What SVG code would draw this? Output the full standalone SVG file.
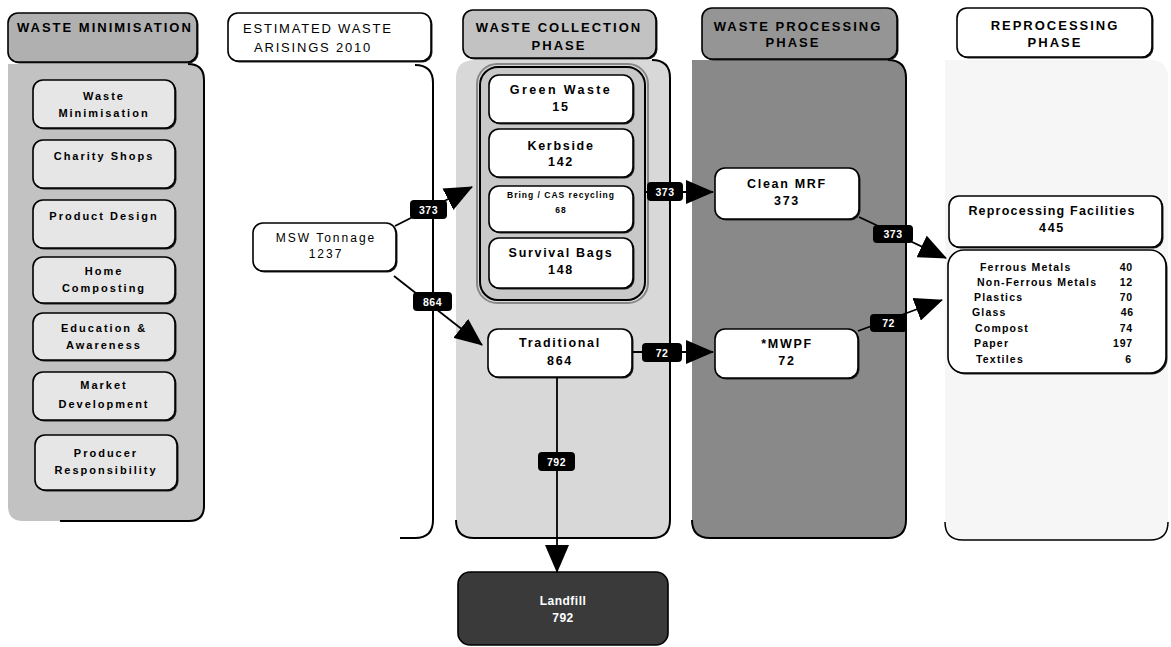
<svg xmlns="http://www.w3.org/2000/svg" width="1171" height="647" viewBox="0 0 1171 647">
<style>
text{font-family:"Liberation Sans",Arial,sans-serif;fill:#000}
.hd{font-size:13px;font-weight:bold;letter-spacing:2px}
.hdr{font-size:13px;letter-spacing:1.8px}
.sb{font-size:11px;font-weight:bold;letter-spacing:2px;text-anchor:middle}
.cb{font-size:12.5px;font-weight:bold;letter-spacing:1.7px;text-anchor:middle}
.rg{font-size:12px;letter-spacing:2px;text-anchor:middle}
.sm{font-size:8.5px;font-weight:bold;letter-spacing:1px;text-anchor:middle}
.mt{font-size:10.5px;font-weight:bold;letter-spacing:1.2px}
.mv{font-size:10.5px;font-weight:bold;letter-spacing:0.8px;text-anchor:end}
.lb{font-size:10.5px;font-weight:bold;letter-spacing:0.5px;text-anchor:middle;fill:#fff}
.box{stroke:#000;stroke-width:1.6}
.sh{fill:#222}
.edge{fill:none;stroke:#000;stroke-width:2}
.conn{fill:none;stroke:#000;stroke-width:1.8}
.badge{fill:#000}
</style>
<defs>
<marker id="ah" markerUnits="userSpaceOnUse" markerWidth="28" markerHeight="24" viewBox="0 0 28 24" refX="27" refY="12" orient="auto">
<path d="M0,0 L28,12 L0,24 Z" fill="#000"/>
</marker>
</defs>
<rect width="1171" height="647" fill="#fff"/>

<!-- Column 1: Waste minimisation -->
<g id="col-minimisation">
<path d="M8,64 L188,64 Q204,64 204,80 L204,506 Q204,521 189,521 L23,521 Q8,521 8,506 Z" fill="#c2c2c2"/>
<path class="edge" d="M188,64 Q204,64 204,80 L204,506 Q204,521 189,521 L60,521"/>
<rect x="9.5" y="14.5" width="189" height="49" rx="10" class="sh"/>
<rect x="8" y="13" width="189" height="49" rx="10" fill="#b0b0b0" class="box"/>
<text class="hd" x="17" y="32">WASTE MINIMISATION</text>
</g>
<g id="n-waste-min"><rect x="34.5" y="81.5" width="142" height="48" rx="10" class="sh"/><rect x="33" y="80" width="142" height="48" rx="10" fill="#e6e6e6" class="box"/><text class="sb" x="104" y="100">Waste</text><text class="sb" x="104" y="117">Minimisation</text></g>
<g id="n-charity"><rect x="34.5" y="141.5" width="142" height="48" rx="10" class="sh"/><rect x="33" y="140" width="142" height="48" rx="10" fill="#e6e6e6" class="box"/><text class="sb" x="104" y="160">Charity Shops</text></g>
<g id="n-product"><rect x="34.5" y="201.5" width="142" height="48" rx="10" class="sh"/><rect x="33" y="200" width="142" height="48" rx="10" fill="#e6e6e6" class="box"/><text class="sb" x="104" y="220">Product Design</text></g>
<g id="n-home"><rect x="34.5" y="258.5" width="142" height="46" rx="10" class="sh"/><rect x="33" y="257" width="142" height="46" rx="10" fill="#e6e6e6" class="box"/><text class="sb" x="104" y="275">Home</text><text class="sb" x="104" y="292">Composting</text></g>
<g id="n-education"><rect x="34.5" y="314.5" width="142" height="47" rx="10" class="sh"/><rect x="33" y="313" width="142" height="47" rx="10" fill="#e6e6e6" class="box"/><text class="sb" x="104" y="332">Education &amp;</text><text class="sb" x="104" y="349">Awareness</text></g>
<g id="n-market"><rect x="34.5" y="373.5" width="142" height="48" rx="10" class="sh"/><rect x="33" y="372" width="142" height="48" rx="10" fill="#e6e6e6" class="box"/><text class="sb" x="104" y="389">Market</text><text class="sb" x="104" y="408">Development</text></g>
<g id="n-producer"><rect x="36.5" y="436.5" width="142" height="55" rx="10" class="sh"/><rect x="35" y="435" width="142" height="55" rx="10" fill="#e6e6e6" class="box"/><text class="sb" x="106" y="457">Producer</text><text class="sb" x="106" y="474">Responsibility</text></g>

<!-- Column 2: Estimated waste arisings -->
<g id="col-estimated">
<path class="edge" d="M415,65 Q433,65 433,83 L433,520 Q433,538 415,538 L400,538"/>
<rect x="229.5" y="14.5" width="203" height="48" rx="10" class="sh"/>
<rect x="228" y="13" width="203" height="48" rx="10" fill="#fff" class="box"/>
<text class="hdr" x="243" y="33">ESTIMATED WASTE</text>
<text class="hdr" x="254" y="52">ARISINGS 2010</text>
</g>
<g id="n-msw"><rect x="254.5" y="224.5" width="143" height="48" rx="10" class="sh"/><rect x="253" y="223" width="143" height="48" rx="10" fill="#fff" class="box"/><text class="rg" x="326" y="242">MSW Tonnage</text><text class="rg" x="326" y="258">1237</text></g>

<!-- Column 3: Waste collection phase -->
<g id="col-collection">
<path d="M475,60 L652,60 Q670,60 670,78 L670,520 Q670,538 652,538 L474,538 Q456,538 456,520 L456,78 Q456,60 475,60 Z" fill="#d8d8d8"/>
<path class="edge" d="M652,60 Q670,60 670,78 L670,520 Q670,538 652,538 L474,538 Q456,538 456,520"/>
<rect x="464.5" y="11.5" width="193" height="48" rx="10" class="sh"/>
<rect x="463" y="10" width="193" height="48" rx="10" fill="#c2c2c2" class="box"/>
<text class="hd" x="559" y="32" text-anchor="middle">WASTE COLLECTION</text>
<text class="hd" x="559" y="50" text-anchor="middle">PHASE</text>
<rect x="477" y="64" width="171" height="239" rx="20" fill="none" stroke="#888" stroke-width="2"/>
<rect x="480" y="67" width="165" height="233" rx="18" fill="#c8c8c8" stroke="#000" stroke-width="2"/>
</g>
<g id="n-green"><rect x="490.5" y="76.5" width="144" height="48" rx="10" class="sh"/><rect x="489" y="75" width="144" height="48" rx="10" fill="#fff" class="box"/><text class="cb" x="561" y="94" style="letter-spacing:2.4px">Green Waste</text><text class="cb" x="561" y="111">15</text></g>
<g id="n-kerbside"><rect x="490.5" y="130.5" width="144" height="48" rx="10" class="sh"/><rect x="489" y="129" width="144" height="48" rx="10" fill="#fff" class="box"/><text class="cb" x="561" y="150">Kerbside</text><text class="cb" x="561" y="166">142</text></g>
<g id="n-bring"><rect x="490.5" y="187.5" width="144" height="46" rx="10" class="sh"/><rect x="489" y="186" width="144" height="46" rx="10" fill="#fff" class="box"/><text class="sm" x="561" y="198">Bring / CAS recycling</text><text class="sm" x="561" y="213">68</text></g>
<g id="n-survival"><rect x="490.5" y="239.5" width="144" height="50" rx="10" class="sh"/><rect x="489" y="238" width="144" height="50" rx="10" fill="#fff" class="box"/><text class="cb" x="561" y="257">Survival Bags</text><text class="cb" x="561" y="274">148</text></g>
<g id="n-traditional"><rect x="489.5" y="330.5" width="144" height="48" rx="10" class="sh"/><rect x="488" y="329" width="144" height="48" rx="10" fill="#fff" class="box"/><text class="cb" x="560" y="347">Traditional</text><text class="cb" x="560" y="365">864</text></g>

<!-- Column 4: Waste processing phase -->
<g id="col-processing">
<path d="M692,60 L888,60 Q906,60 906,78 L906,520 Q906,538 888,538 L710,538 Q692,538 692,520 Z" fill="#898989"/>
<path class="edge" d="M888,60 Q906,60 906,78 L906,520 Q906,538 888,538 L710,538 Q692,538 692,520"/>
<rect x="703.5" y="9.5" width="195" height="51" rx="10" class="sh"/>
<rect x="702" y="8" width="195" height="51" rx="10" fill="#959595" class="box"/>
<text class="hd" x="798" y="31" text-anchor="middle">WASTE PROCESSING</text>
<text class="hd" x="793" y="47" text-anchor="middle">PHASE</text>
</g>
<g id="n-cleanmrf"><rect x="716.5" y="169.5" width="144" height="51" rx="10" class="sh"/><rect x="715" y="168" width="144" height="51" rx="10" fill="#fff" class="box"/><text class="cb" x="787" y="188">Clean MRF</text><text class="cb" x="787" y="205">373</text></g>
<g id="n-mwpf"><rect x="716.5" y="330.5" width="143" height="49" rx="10" class="sh"/><rect x="715" y="329" width="143" height="49" rx="10" fill="#fff" class="box"/><text class="cb" x="787" y="348">*MWPF</text><text class="cb" x="787" y="365">72</text></g>

<!-- Column 5: Reprocessing phase -->
<g id="col-reprocessing">
<path d="M945,60 L1150,60 Q1168,60 1168,78 L1168,520 Q1168,540 1150,540 L963,540 Q945,540 945,522 Z" fill="#f6f6f6"/>
<path d="M1150,540 Q1168,540 1168,522 M963,540 L1150,540 M945,522 Q945,540 963,540" fill="none" stroke="#000" stroke-width="1.5"/>
<rect x="958.5" y="9.5" width="195" height="49" rx="10" class="sh"/>
<rect x="957" y="8" width="195" height="49" rx="10" fill="#fff" class="box"/>
<text class="hd" x="1055" y="30" text-anchor="middle">REPROCESSING</text>
<text class="hd" x="1055" y="47" text-anchor="middle">PHASE</text>
</g>
<g id="n-reproc"><rect x="950.5" y="197.5" width="213" height="51" rx="10" class="sh"/><rect x="949" y="196" width="213" height="51" rx="10" fill="#fff" class="box"/><text class="cb" x="1052" y="215" style="letter-spacing:1.2px">Reprocessing Facilities</text><text class="cb" x="1052" y="232">445</text></g>
<g id="n-materials"><rect x="949.5" y="251.5" width="218" height="123" rx="16" class="sh"/><rect x="948" y="250" width="218" height="123" rx="16" fill="#fff" class="box"/>
<text class="mt" x="980" y="271">Ferrous Metals</text><text class="mv" x="1133" y="271">40</text>
<text class="mt" x="977" y="286">Non-Ferrous Metals</text><text class="mv" x="1133" y="286">12</text>
<text class="mt" x="974" y="301">Plastics</text><text class="mv" x="1133" y="301">70</text>
<text class="mt" x="972" y="316">Glass</text><text class="mv" x="1134" y="316">46</text>
<text class="mt" x="975" y="332">Compost</text><text class="mv" x="1133" y="332">74</text>
<text class="mt" x="974" y="347">Paper</text><text class="mv" x="1133" y="347">197</text>
<text class="mt" x="976" y="363">Textiles</text><text class="mv" x="1132" y="363">6</text>
</g>

<!-- Landfill -->
<g id="n-landfill"><rect x="458" y="572" width="210" height="73" rx="12" fill="#3a3a3a" stroke="#000" stroke-width="1.6"/><text class="lb" x="563" y="605" style="font-size:12px">Landfill</text><text class="lb" x="563" y="622" style="font-size:12px">792</text></g>

<!-- Connectors -->
<g id="connectors">
<line class="conn" x1="395" y1="226" x2="472" y2="187" marker-end="url(#ah)"/>
<line class="conn" x1="394" y1="276" x2="482" y2="345" marker-end="url(#ah)"/>
<line class="conn" x1="645" y1="192" x2="713" y2="192" marker-end="url(#ah)"/>
<line class="conn" x1="632" y1="352" x2="713" y2="352" marker-end="url(#ah)"/>
<line class="conn" x1="859" y1="217" x2="946" y2="258" marker-end="url(#ah)"/>
<line class="conn" x1="858" y1="331" x2="942" y2="300" marker-end="url(#ah)"/>
<line class="conn" x1="557" y1="378" x2="557" y2="572" marker-end="url(#ah)"/>
<g id="badges">
<rect class="badge" x="410" y="200" width="37" height="19" rx="4"/><text class="lb" x="428.5" y="213.5">373</text>
<rect class="badge" x="413" y="292" width="39" height="19" rx="4"/><text class="lb" x="432.5" y="305.5">864</text>
<rect class="badge" x="647" y="182" width="36" height="19" rx="4"/><text class="lb" x="665" y="195.5">373</text>
<rect class="badge" x="642" y="343" width="40" height="19" rx="4"/><text class="lb" x="662" y="356.5">72</text>
<rect class="badge" x="873" y="225" width="40" height="18" rx="4"/><text class="lb" x="893" y="238">373</text>
<rect class="badge" x="870" y="314" width="37" height="18" rx="4"/><text class="lb" x="888.5" y="327">72</text>
<rect class="badge" x="538" y="452" width="37" height="19" rx="4"/><text class="lb" x="556.5" y="465.5">792</text>
</g>
</g>
</svg>
